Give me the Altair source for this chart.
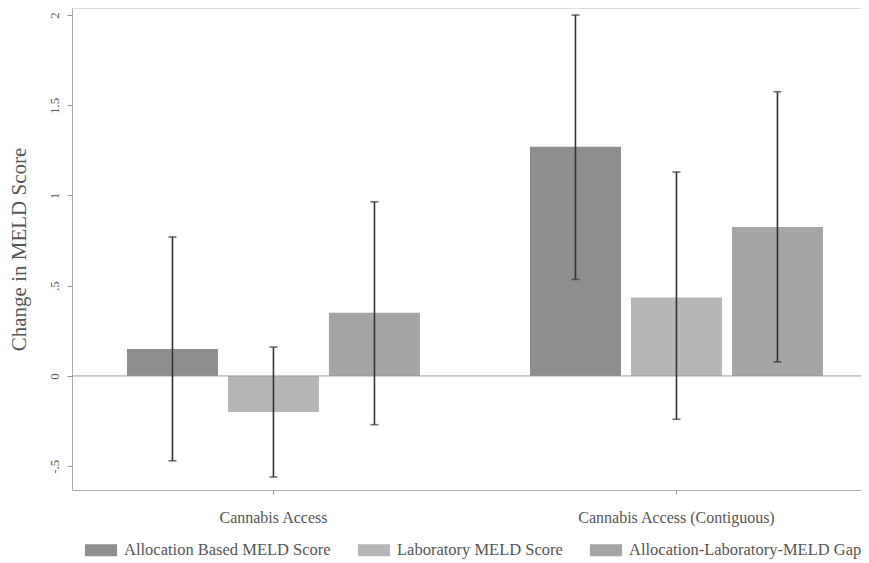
import altair as alt
import pandas as pd

groups = ["Cannabis Access", "Cannabis Access (Contiguous)"]
series = ["Allocation Based MELD Score", "Laboratory MELD Score", "Allocation-Laboratory-MELD Gap"]
values_g1 = [0.15, -0.20, 0.35]
values_g2 = [1.27, 0.435, 0.825]
lower_g1 = [-0.47, -0.56, -0.27]
lower_g2 = [0.535, -0.24, 0.078]
upper_g1 = [0.77, 0.16, 0.965]
upper_g2 = [2.0, 1.13, 1.575]
colors = ["#8e8e8e", "#b6b6b6", "#a5a5a5"]
y_ticks = [-0.5, 0, 0.5, 1, 1.5, 2]

rows = []
for g, vals, lo, hi in [(groups[0], values_g1, lower_g1, upper_g1),
                        (groups[1], values_g2, lower_g2, upper_g2)]:
    for s, v, l, h in zip(series, vals, lo, hi):
        rows.append({"group": g, "series": s, "value": v, "lower": l, "upper": h})
df = pd.DataFrame(rows)
zero_df = pd.DataFrame({"zero": [0]})

FONT = "Liberation Serif"
TXT = "#555555"

x_enc = alt.X("group:N", sort=groups,
              scale=alt.Scale(paddingInner=0.273, paddingOuter=0.1154, align=0.591),
              axis=alt.Axis(title=None, labelAngle=0, labelFont=FONT, labelFontSize=16,
                            labelColor=TXT, labelPadding=15, labelLimit=0, tickSize=4,
                            tickColor="#999999", domainColor="#aaaaaa", grid=False))
xo_enc = alt.XOffset("series:N", sort=series,
                     scale=alt.Scale(paddingInner=0.099, paddingOuter=0))
y_scale = alt.Scale(domain=[-0.632, 2.039], nice=False, zero=False)

bars = alt.Chart(df).mark_bar().encode(
    x=x_enc,
    xOffset=xo_enc,
    y=alt.Y("value:Q", scale=y_scale,
            axis=alt.Axis(title="Change in MELD Score", values=y_ticks, format="~g",
                          labelExpr="datum.value == 0.5 ? '.5' : (datum.value == -0.5 ? '-.5' : datum.label)",
                          labelAngle=-90, labelAlign="center", labelBaseline="bottom",
                          labelFont=FONT, labelFontSize=13, labelColor=TXT, labelPadding=6,
                          tickSize=5, tickColor="#999999", domainColor="#aaaaaa",
                          titleFont=FONT, titleFontSize=21, titleFontWeight="normal",
                          titleColor=TXT, titlePadding=19, grid=False)),
    y2=alt.datum(0),
    color=alt.Color("series:N", sort=series,
                    scale=alt.Scale(domain=series, range=colors),
                    legend=alt.Legend(title=None, orient="none", direction="horizontal",
                                      legendX=18, legendY=531, labelLimit=0,
                                      symbolType="M-1.5,-0.55H1.5V0.55H-1.5Z", symbolSize=460,
                                      symbolStrokeWidth=0, labelFont=FONT, labelFontSize=16.5,
                                      labelColor=TXT, labelOffset=12, columnPadding=26,
                                      padding=0)),
)

zero = alt.Chart(zero_df).mark_rule(color="#999999", strokeWidth=1).encode(
    y=alt.Y("zero:Q", scale=y_scale)
)

rules = alt.Chart(df).mark_rule(color="#333333", strokeWidth=1.6).encode(
    x=alt.X("group:N", sort=groups),
    xOffset=alt.XOffset("series:N", sort=series),
    y=alt.Y("lower:Q", scale=y_scale),
    y2="upper:Q",
)

caps_lo = alt.Chart(df).mark_tick(color="#333333", thickness=1.6, size=8).encode(
    x=alt.X("group:N", sort=groups),
    xOffset=alt.XOffset("series:N", sort=series),
    y=alt.Y("lower:Q", scale=y_scale),
)
caps_hi = alt.Chart(df).mark_tick(color="#333333", thickness=1.6, size=8).encode(
    x=alt.X("group:N", sort=groups),
    xOffset=alt.XOffset("series:N", sort=series),
    y=alt.Y("upper:Q", scale=y_scale),
)

chart = alt.layer(bars, zero, rules, caps_lo, caps_hi).properties(
    width=789, height=482,
    autosize=alt.AutoSizeParams(type="none"),
    padding={"left": 64, "top": 0, "right": 0, "bottom": 70},
).configure_view(stroke=None).configure(background="white")

chart.save("out.html", embed_options={"renderer": "svg", "actions": False})
